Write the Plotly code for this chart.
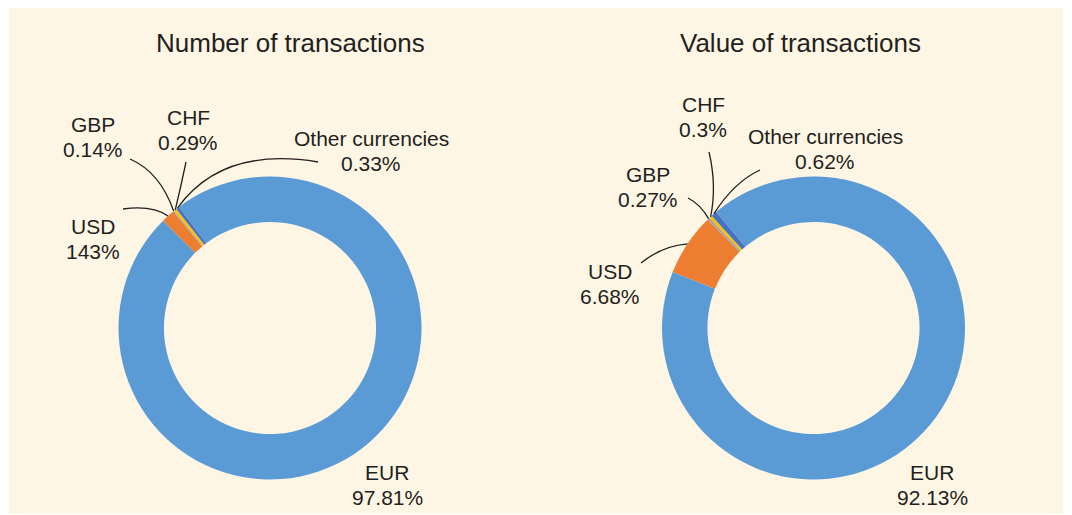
import math
import plotly.graph_objects as go

# page body has an 8px margin, so the figure is sized to fit inside it
OFF = 8
W, H = 1072 - OFF, 515 - OFF

# data ------------------------------------------------------------------
currencies = ["EUR", "USD", "GBP", "CHF", "Other currencies"]
number_pct = [97.81, 1.43, 0.14, 0.29, 0.33]
value_pct = [92.13, 6.68, 0.27, 0.3, 0.62]
# labels as printed in the source (incl. its "143%" typo)
number_labels = ["97.81%", "143%", "0.14%", "0.29%", "0.33%"]
value_labels = ["92.13%", "6.68%", "0.27%", "0.3%", "0.62%"]
titles = ["Number of transactions", "Value of transactions"]

COLORS = ["#5b9bd5", "#ed7d31", "#a5a5a5", "#ffc000", "#4472c4"]
INK = "#231f20"
CREAM = "#fef6e4"
FONT = "Liberation Sans, Arial, sans-serif"
LINE_GAP = 25  # px between the name and value lines of a label

# layout (page pixels) --------------------------------------------------
# donut centre, outer radius, start angle (deg clockwise from 12 o'clock)
donuts = [
    dict(cx=270, cy=328, r=151.5, rot=-37, title_x=290),
    dict(cx=813.5, cy=328, r=151.5, rot=-40, title_x=800),
]
HOLE = 0.70
# per slice: label centre, leader start, bezier control (None = no leader)
callouts = [
    {
        "EUR": dict(lab=(387, 485)),
        "USD": dict(lab=(93, 239), p0=(123, 209), c=(152, 205)),
        "GBP": dict(lab=(93, 137), p0=(130, 159), c=(160, 172)),
        "CHF": dict(lab=(188, 130), p0=(186, 162), c=(181, 186)),
        "Other currencies": dict(lab=(371, 151), p0=(318, 162), c=(222, 146)),
    },
    {
        "EUR": dict(lab=(932, 485)),
        "USD": dict(lab=(610, 284), p0=(641, 263), c=(662, 246)),
        "GBP": dict(lab=(648, 187), p0=(688, 198), c=(700, 204)),
        "CHF": dict(lab=(703, 117), p0=(709, 152), c=(717, 186)),
        "Other currencies": dict(lab=(825, 149), p0=(760, 170), c=(734, 182)),
    },
]


def px(x):
    return (x - OFF) / W


def py(y):
    return 1 - (y - OFF) / H


def text(s, x, y, size):
    return dict(text=s, x=px(x), y=py(y), xref="paper", yref="paper",
                showarrow=False, xanchor="center", yanchor="middle",
                font=dict(size=size, color=INK, family=FONT))


fig = go.Figure()
shapes = [dict(type="rect", xref="paper", yref="paper", layer="below",
               x0=px(9), x1=px(1063), y0=py(514), y1=py(6),
               fillcolor=CREAM, line=dict(width=0))]
annotations = []

for d, vals, labs, title, calls in zip(donuts, [number_pct, value_pct],
                                       [number_labels, value_labels],
                                       titles, callouts):
    fig.add_trace(go.Pie(
        labels=currencies, values=vals, hole=HOLE, sort=False,
        direction="clockwise", rotation=d["rot"], textinfo="none",
        hoverinfo="label+percent",
        marker=dict(colors=COLORS, line=dict(width=0)),
        domain=dict(x=[px(d["cx"] - d["r"]), px(d["cx"] + d["r"])],
                    y=[py(d["cy"] + d["r"]), py(d["cy"] - d["r"])]),
        showlegend=False,
    ))
    annotations.append(text(title, d["title_x"], 43, 26))

    total = sum(vals)
    start = d["rot"]
    for name, v, lab in zip(currencies, vals, labs):
        sweep = v / total * 360
        mid = math.radians(start + sweep / 2)
        start += sweep
        ax = d["cx"] + d["r"] * math.sin(mid)
        ay = d["cy"] - d["r"] * math.cos(mid)
        cfg = calls[name]
        lx, ly = cfg["lab"]
        annotations.append(text(name, lx, ly - LINE_GAP / 2, 21))
        annotations.append(text(lab, lx, ly + LINE_GAP / 2, 21))
        if "p0" in cfg:
            (x0, y0), (cx_, cy_) = cfg["p0"], cfg["c"]
            shapes.append(dict(
                type="path", xref="paper", yref="paper",
                path=(f"M {px(x0)} {py(y0)} Q {px(cx_)} {py(cy_)} "
                      f"{px(ax)} {py(ay)}"),
                line=dict(color=INK, width=1.3)))

fig.update_layout(
    width=W, height=H, margin=dict(l=0, r=0, t=0, b=0),
    paper_bgcolor="white", plot_bgcolor="white",
    font=dict(family=FONT, color=INK),
    shapes=shapes, annotations=annotations,
)
fig.write_html("out.html")
